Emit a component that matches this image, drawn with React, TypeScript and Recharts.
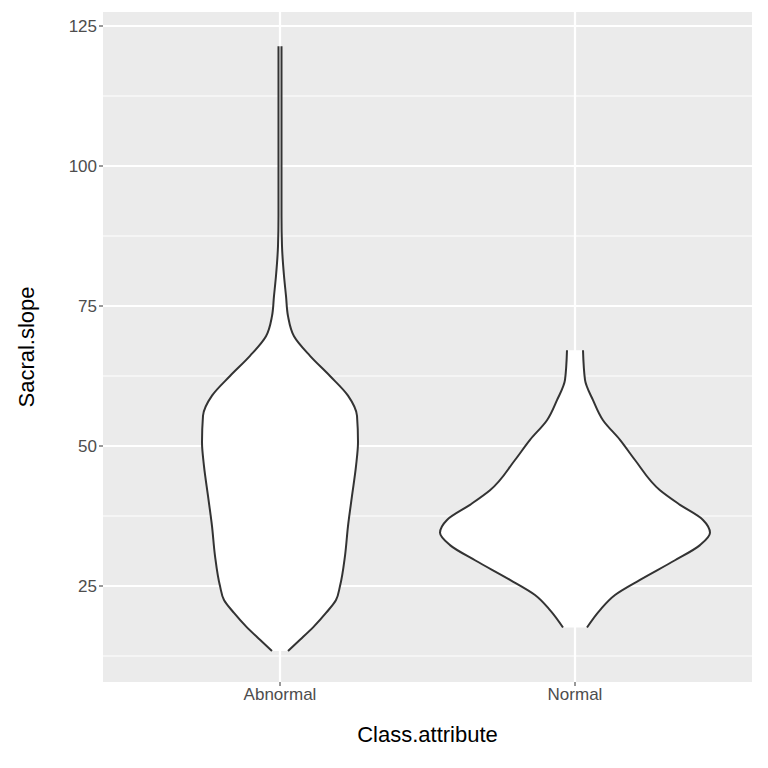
import React from 'react';
import { ComposedChart, Area, XAxis, YAxis, CartesianGrid } from 'recharts';

// Violin outlines: value (Sacral.slope) and half-width (in category units)
const abnormalY = [13.4, 15.4, 17.8, 20.2, 22.5, 25.0, 30.4, 35.7, 41.1, 46.4, 50.7, 55.4, 59.0, 62.5, 66.1, 69.6, 73.2, 76.8, 80.4, 85.7, 91.1, 121.4];
const abnormalW = [8, 20, 34, 46, 56, 60, 65, 68, 72, 76, 78, 77, 68, 50, 30, 14, 8, 6, 4, 2, 1.5, 1.5];
const normalY = [17.6, 20.7, 23.4, 26.1, 29.6, 32.3, 34.5, 36.8, 39.5, 42.1, 47.5, 51.1, 54.6, 58.2, 61.8, 67.1];
const normalW = [12, 25, 40, 65, 100, 125, 135, 128, 105, 85, 60, 45, 28, 18, 10, 8];
const categories = ['Abnormal', 'Normal'];
const yTicks = [25, 50, 75, 100, 125];
const yMinor = [12.5, 37.5, 62.5, 87.5, 112.5];

const PX_PER_UNIT = 295;
const build = (ys: number[], ws: number[], c: number) =>
  ys.map((y, i) => ({ y, v: [c - ws[i] / PX_PER_UNIT, c + ws[i] / PX_PER_UNIT] }));

const abnormalData = build(abnormalY, abnormalW, 1);
const normalData = build(normalY, normalW, 2);

export default function App() {
  const font = 'Liberation Sans, Arial, sans-serif';
  return (
    <div style={{ position: 'absolute', left: 0, top: 0, fontFamily: font }}>
      <ComposedChart width={768} height={768} layout="vertical"
        margin={{ top: 12, right: 16, bottom: 0, left: 0 }}>
        <CartesianGrid fill="#ebebeb" stroke="#ffffff" strokeWidth={1}
          horizontalValues={yMinor} vertical={false} />
        <CartesianGrid fill="none" stroke="#ffffff" strokeWidth={2.2}
          horizontalValues={yTicks} verticalValues={[1, 2]} />
        <XAxis type="number" dataKey="v" domain={[0.4, 2.6]} ticks={[1, 2]}
          tickFormatter={(v: number) => categories[v - 1]} allowDuplicatedCategory={false}
          height={86} axisLine={false} tickSize={4} tickLine={{ stroke: '#333' }}
          tick={{ fill: '#4d4d4d', fontSize: 17, fontFamily: font }}
          label={{ value: 'Class.attribute', position: 'insideTop', offset: 44, fill: '#000', fontSize: 22, fontFamily: font }} />
        <YAxis type="number" dataKey="y" domain={[7.86, 127.5]} ticks={yTicks} reversed
          width={103} axisLine={false} tickSize={4} tickLine={{ stroke: '#333' }}
          tick={{ fill: '#4d4d4d', fontSize: 17, fontFamily: font }}
          label={{ value: 'Sacral.slope', angle: -90, position: 'insideLeft', offset: 26, fill: '#000', fontSize: 22, fontFamily: font, style: { textAnchor: 'middle' } }} />
        <Area data={abnormalData} dataKey="v" type="monotone" fill="#ffffff" fillOpacity={1}
          stroke="#333333" strokeWidth={2} isAnimationActive={false} />
        <Area data={normalData} dataKey="v" type="monotone" fill="#ffffff" fillOpacity={1}
          stroke="#333333" strokeWidth={2} isAnimationActive={false} />
      </ComposedChart>
    </div>
  );
}
